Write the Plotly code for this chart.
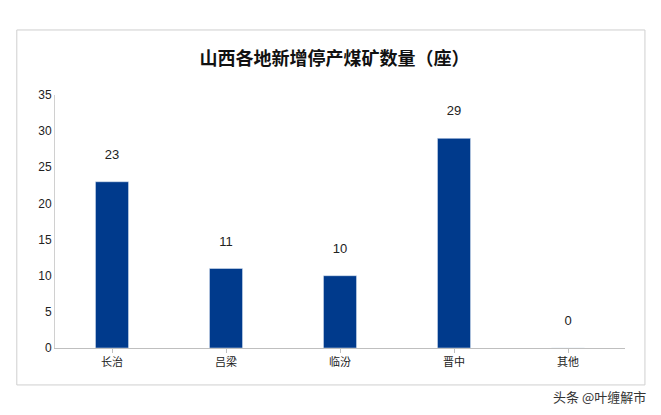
import plotly.graph_objects as go

categories = ["长治", "吕梁", "临汾", "晋中", "其他"]
values = [23, 11, 10, 29, 0]
title = "山西各地新增停产煤矿数量（座）"

fig = go.Figure(go.Bar(
    x=categories, y=values, marker_color="#003A8C", width=0.29,
    text=[f"{v}<br> " for v in values], textposition="outside",
    textfont=dict(family="Liberation Sans", size=13, color="#222"),
    cliponaxis=False,
))
fig.update_layout(
    width=653, height=407, margin=dict(l=47, r=36, t=87, b=67),
    plot_bgcolor="white", paper_bgcolor="white", showlegend=False,
    title=dict(text="<b>" + title + "</b>", x=0.5, xanchor="center", y=0.875, yanchor="middle",
               font=dict(family="Noto Sans CJK SC", size=18, color="#111")),
    yaxis=dict(range=[0, 35], dtick=5, showgrid=False, showline=True, linecolor="#d0d0d0",
               ticks="", tickfont=dict(family="Liberation Sans", size=12, color="#222")),
    xaxis=dict(showline=True, linecolor="#bfbfbf", ticks="outside", ticklen=4, tickcolor="#bfbfbf",
               tickfont=dict(family="Noto Sans CJK SC", size=11, color="#222")),
    shapes=[dict(type="rect", xref="paper", yref="paper", x0=-0.067, x1=1.035, y0=-0.146, y1=1.257,
                 line=dict(color="#cfcfcf", width=1))],
    annotations=[dict(text="头条 @叶缠解市", xref="paper", yref="paper", x=1.04, y=-0.19,
                      xanchor="right", yanchor="middle", showarrow=False,
                      font=dict(family="Noto Sans CJK SC", size=13, color="#333"))],
)
fig.write_html("out.html")
